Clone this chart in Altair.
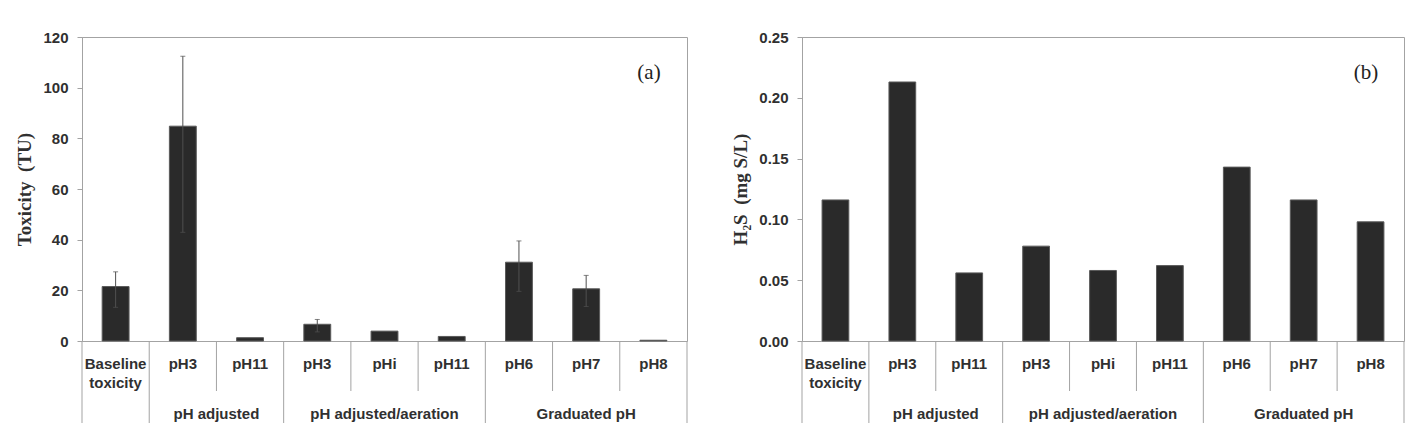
import altair as alt
import pandas as pd

# Treatments along the x axis (two-level: treatment / group)
labels = ["Baseline\ntoxicity", "pH3", "pH11", "pH3", "pHi", "pH11", "pH6", "pH7", "pH8"]
groups = ["", "pH adjusted", "pH adjusted", "pH adjusted/aeration", "pH adjusted/aeration",
          "pH adjusted/aeration", "Graduated pH", "Graduated pH", "Graduated pH"]

# (a) Toxicity (TU) with error bar bounds
toxicity = [21.5, 84.8, 1.3, 6.6, 3.9, 1.8, 31.1, 20.6, 0.3]
tox_low = [13.3, 42.9, None, 3.6, None, None, 19.6, 13.6, None]
tox_high = [27.3, 112.4, None, 8.5, None, None, 39.5, 25.9, None]

# (b) H2S concentration (mg S/L)
h2s = [0.116, 0.213, 0.056, 0.078, 0.058, 0.062, 0.143, 0.116, 0.098]

W_A, W_B, H = 605, 602, 304
BAR_FRAC = 0.4
FRAME = "#a3a3a3"
INK = "#303030"
SANS = "Liberation Sans"
SERIF = "Liberation Serif"
FS = 15

n = len(labels)
cats = pd.DataFrame({
    "idx": range(n),
    "label": labels,
    "group": groups,
    "toxicity": toxicity,
    "tox_low": tox_low,
    "tox_high": tox_high,
    "h2s": h2s,
})
cats["xc"] = cats["idx"] + 0.5
cats["x0"] = cats["xc"] - BAR_FRAC / 2
cats["x1"] = cats["xc"] + BAR_FRAC / 2

# category boundaries: long lines between groups, short lines inside a group
bounds = []
for b in range(n + 1):
    left = groups[b - 1] if b > 0 else None
    right = groups[b] if b < n else None
    bounds.append({"pos": b, "long": (left != right) or left == ""})
bounds = pd.DataFrame(bounds)

# group captions centred under their categories
grp = (cats[cats["group"] != ""]
       .groupby("group", sort=False)
       .agg(start=("idx", "min"), end=("idx", "max"))
       .reset_index())
grp["center"] = (grp["start"] + grp["end"] + 1) / 2

xscale = alt.Scale(domain=[0, n], nice=False, zero=False)


def panel(field, width, y_title, y_max, y_step, y_fmt, letter, err=None):
    x = alt.X("x0:Q", scale=xscale, axis=None)
    yaxis = alt.Axis(
        title=y_title, values=[round(i * y_step, 4) for i in range(int(round(y_max / y_step)) + 1)],
        format=y_fmt, grid=False, domainColor=FRAME, tickColor=FRAME, tickSize=5,
        labelFont=SANS, labelFontWeight="bold", labelFontSize=FS, labelColor=INK,
        labelPadding=9, titleFont=SERIF, titleFontWeight="bold", titleFontSize=19,
        titleColor=INK, titlePadding=8,
    )
    bars = alt.Chart(cats).mark_bar(color="#2a2a2a", stroke="#5a5a5a", strokeWidth=1).encode(
        x=x, x2="x1:Q",
        y=alt.Y(f"{field}:Q", scale=alt.Scale(domain=[0, y_max], nice=False), axis=yaxis),
        y2=alt.datum(0),
    )
    layers = [bars]
    if err is not None:
        lo, hi = err
        ed = cats.dropna(subset=[lo, hi])
        layers.append(alt.Chart(ed).mark_rule(color="#505050", strokeWidth=1).encode(
            x=alt.X("xc:Q", scale=xscale), y=f"{lo}:Q", y2=f"{hi}:Q"))
        for f in (lo, hi):
            layers.append(alt.Chart(ed).mark_tick(color="#505050", orient="horizontal",
                                                  size=5, thickness=1).encode(
                x=alt.X("xc:Q", scale=xscale), y=f"{f}:Q"))
    # category labels
    layers.append(alt.Chart(cats).mark_text(
        font=SANS, fontWeight="bold", fontSize=FS, color=INK, baseline="alphabetic",
        lineBreak="\n", lineHeight=18.5).encode(
        x=alt.X("xc:Q", scale=xscale), y=alt.value(H + 28), text="label:N"))
    # dividers below the axis
    layers.append(alt.Chart(bounds[~bounds["long"]]).mark_rule(color=FRAME).encode(
        x=alt.X("pos:Q", scale=xscale), y=alt.value(H), y2=alt.value(H + 50)))
    layers.append(alt.Chart(bounds[bounds["long"]]).mark_rule(color=FRAME).encode(
        x=alt.X("pos:Q", scale=xscale), y=alt.value(H), y2=alt.value(H + 82)))
    # group captions
    layers.append(alt.Chart(grp).mark_text(
        font=SANS, fontWeight="bold", fontSize=FS, color=INK, baseline="alphabetic").encode(
        x=alt.X("center:Q", scale=xscale), y=alt.value(H + 78), text="group:N"))
    # panel letter
    layers.append(alt.Chart(pd.DataFrame({"t": [letter]})).mark_text(
        font=SERIF, fontSize=21, color="#222222", align="center", baseline="middle").encode(
        x=alt.value(width - 38), y=alt.value(36), text="t:N"))
    return alt.layer(*layers).properties(width=width, height=H)


left = panel("toxicity", W_A, "Toxicity\u00a0 (TU)", 120, 20, "d", "(a)",
             err=("tox_low", "tox_high"))
right = panel("h2s", W_B, "H₂S\u00a0 (mg S/L)", 0.25, 0.05, ".2f", "(b)")

chart = alt.hconcat(left, right, spacing=43).properties(
    padding={"left": 15, "top": 29, "right": 5, "bottom": 5},
    background="white",
).configure_view(stroke=FRAME, strokeWidth=1)

chart.save("out.html", embed_options={"renderer": "svg", "actions": False})
